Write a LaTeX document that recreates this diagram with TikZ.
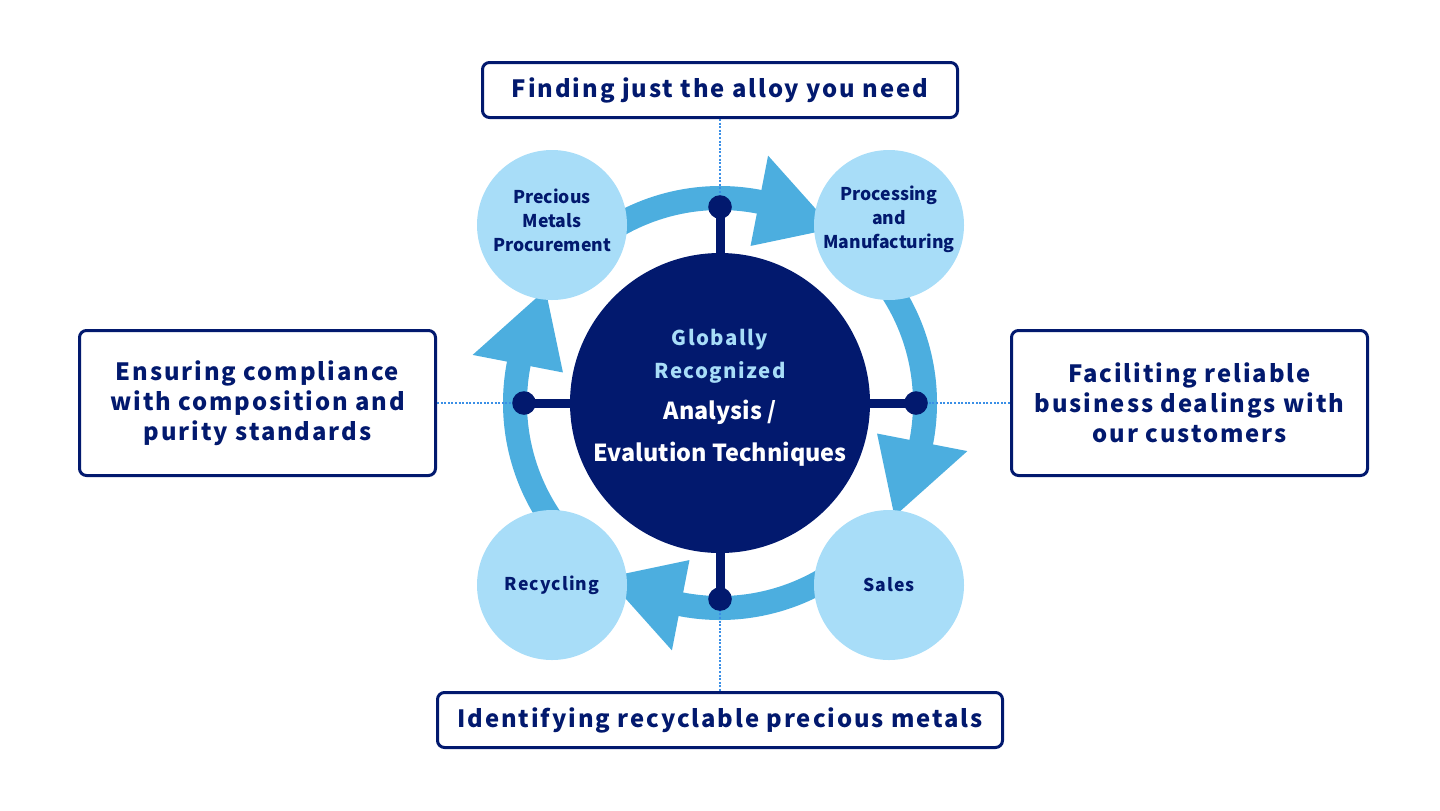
\documentclass[tikz,border=0pt]{standalone}
\usepackage{fontspec}
\setmainfont{Noto Sans CJK JP}
\usetikzlibrary{calc}
\definecolor{navy}{HTML}{02196E}
\definecolor{lightb}{HTML}{A8DDF8}
\definecolor{ringb}{HTML}{4CAEDF}
\definecolor{dotb}{HTML}{3A8FE6}
\begin{document}
\begin{tikzpicture}[x=0.5pt,y=-0.5pt,
  every node/.style={text=navy, align=center, inner sep=0pt},
  box/.style={draw=navy, line width=1.5pt, rounded corners=3.5pt, fill=white,
    font={\fontsize{11.9}{15}\selectfont\bfseries\addfontfeature{LetterSpace=8}}},
  stage/.style={circle, fill=lightb, minimum size=75pt},
  stagetext/.style={font={\fontsize{8.8}{12}\selectfont\bfseries}},
  spaced/.style={font={\fontsize{8.8}{12}\selectfont\bfseries\addfontfeature{LetterSpace=6}}},
  core/.style={circle, fill=navy, minimum size=150pt},
  hub/.style={circle, fill=navy, minimum size=11.8pt},
  stem/.style={draw=navy, line width=4.5pt},
  guide/.style={draw=dotb, line width=1.2pt, dash pattern=on 1pt off 0.8pt},
  ringarc/.style={draw=ringb, line width=12pt},
  ringhead/.style={fill=ringb}]
\useasboundingbox (0,0) rectangle (1440,810);

% boxes
\node[box, minimum width=237.5pt, minimum height=27.5pt] (topbox) at (720,90) {Finding just the alloy you need};
\node[box, minimum width=282.5pt, minimum height=27.5pt] (botbox) at (720,720) {Identifying recyclable precious metals};
\node[box, minimum width=178pt, minimum height=72.5pt] (leftbox) at (257.5,403) {Ensuring compliance\\with composition and\\purity standards};
\node[box, minimum width=178pt, minimum height=72.5pt] (rightbox) at (1189.5,403) {Faciliting reliable\\business dealings with\\our customers};

% ring
\coordinate (C) at (720,403);
\foreach \k in {0,1,2,3}{
  \pgfmathsetmacro\ts{-135+90*\k}
  \pgfmathsetmacro\tb{-79+90*\k}
  \pgfmathsetmacro\te{-78+90*\k}
  \pgfmathsetmacro\tt{-57+90*\k}
  \draw[ringarc] ($(C)+(\ts:205)$) arc[start angle=\ts, end angle=\te, radius=205];
  \fill[ringhead] ($(C)+(\tb:160)$) -- ($(C)+(\tb:252)$) -- ($(C)+(\tt:208)$) -- cycle;
}

% hub points
\coordinate (pT) at ($(C)+(-90:196)$);
\coordinate (pR) at ($(C)+(0:196)$);
\coordinate (pB) at ($(C)+(90:196)$);
\coordinate (pL) at ($(C)+(180:196)$);

\draw[guide] (topbox.south) -- (pT);
\draw[guide] (botbox.north) -- (pB);
\draw[guide] (leftbox.east) -- (pL);
\draw[guide] (rightbox.west) -- (pR);

\node[core] (core) at (C) {};
\draw[stem] (core) -- (pT);
\draw[stem] (core) -- (pR);
\draw[stem] (core) -- (pB);
\draw[stem] (core) -- (pL);
\node[hub] (hT) at (pT) {};
\node[hub] (hR) at (pR) {};
\node[hub] (hB) at (pB) {};
\node[hub] (hL) at (pL) {};

% core texts
\node[anchor=base, text=lightb, font={\fontsize{10.2}{12}\selectfont\bfseries\addfontfeature{LetterSpace=7}}] (t1) at (720,345) {Globally};
\node[anchor=base, text=lightb, font={\fontsize{10.2}{12}\selectfont\bfseries\addfontfeature{LetterSpace=7}}] (t2) at (720,378) {Recognized};
\node[anchor=base, text=white, font={\fontsize{11.7}{12}\selectfont\bfseries}] (t3) at (720,419) {Analysis /};
\node[anchor=base, text=white, font={\fontsize{11.7}{12}\selectfont\bfseries}] (t4) at (720,461) {Evalution Techniques};

% stage circles
\node[stage] (proc) at (552,225) {};
\node[stage] (manu) at (889,225) {};
\node[stage] (recy) at (552,585) {};
\node[stage] (sales) at (889,585) {};
\node[stagetext] (procT) at ($(proc)+(0,-5)$) {Precious\\Metals\\Procurement};
\node[stagetext] (manuT) at ($(manu)+(0,-6)$) {Processing\\and\\Manufacturing};
\node[spaced] (recyT) at (recy) {Recycling};
\node[spaced] (salesT) at (sales) {Sales};
\end{tikzpicture}
\end{document}
